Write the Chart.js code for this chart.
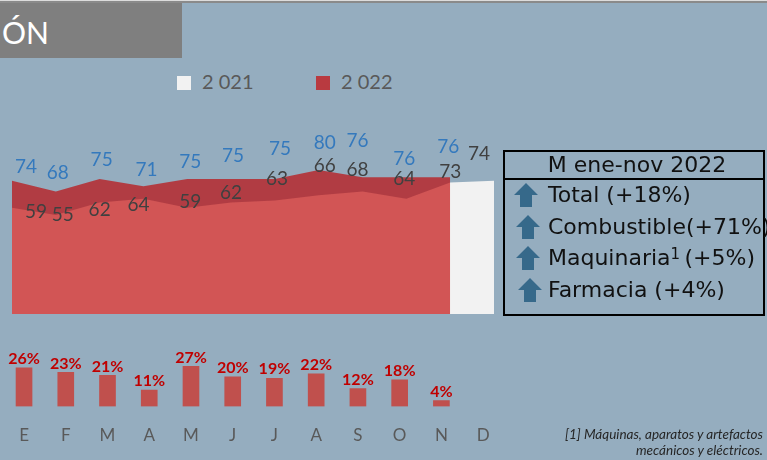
<!DOCTYPE html>
<html>
<head>
<meta charset="utf-8">
<script src="https://cdn.jsdelivr.net/npm/chart.js@4.4.1/dist/chart.umd.min.js"></script>
<style>
    html, body { margin: 0; padding: 0; }
    body {
        width: 767px; height: 460px; position: relative; overflow: hidden;
        background: #95adbf; font-family: Lato, sans-serif;
    }
    canvas { position: absolute; left: 0; top: 0; }
    .topline {
        position: absolute; left: 0; top: 0; width: 767px; height: 3px;
        background: linear-gradient(#dcdcdc 0 1px, #8a8a8a 1px 3px);
    }
    .title {
        position: absolute; left: 0; top: 3px; width: 182px; height: 55px;
        background: #7f7f7f; color: #fff; font-size: 30px; line-height: 58px;
        padding-left: 2px; box-sizing: border-box;
    }
    .legend { position: absolute; top: 68px; font-size: 20px; color: #595959; line-height: 26px; }
    .legend span.sw { display: inline-block; width: 14px; height: 14px; vertical-align: -1px; margin-right: 11px; }
    .box {
        position: absolute; left: 503px; top: 150px; width: 262px; height: 166px;
        border: 2px solid #000; box-sizing: border-box; font-family: "DejaVu Sans", sans-serif;
    }
    .box .head {
        height: 26px; border-bottom: 2px solid #000; text-align: center;
        font-size: 22px; line-height: 26px; color: #111; padding-left: 6px; white-space: nowrap;
    }
    .row { position: absolute; left: 0; font-size: 22px; color: #111; white-space: nowrap; line-height: 26px; }
    .row svg { position: absolute; top: 1px; }
    .row > span { position: absolute; left: 43px; }
    .row sup { font-size: 15px; line-height: 0; vertical-align: 0; position: relative; top: -6px; }
    .note {
        position: absolute; right: 4px; top: 426px; text-align: right;
        font-style: italic; font-size: 13.5px; line-height: 16px; color: #262626;
    }
</style>
</head>
<body>
<div class="topline"></div>
<div class="title">ÓN</div>
<div class="legend" style="left:177px"><span class="sw" style="background:#f2f2f2"></span>2 021</div>
<div class="legend" style="left:316px"><span class="sw" style="background:#b93a40"></span>2 022</div>

<canvas id="areaChart" width="767" height="460"></canvas>
<canvas id="growthChart" width="767" height="460"></canvas>

<div class="box">
    <div class="head">M ene-nov 2022</div>
    <div class="row" style="top:30px"><svg width="24" height="24" style="left:9px"><polygon points="12,0 24,12 18,12 18,24 6,24 6,12 0,12" fill="#36698a"/></svg><span>Total (+18%)</span></div>
    <div class="row" style="top:62px"><svg width="24" height="24" style="left:11px"><polygon points="12,0 24,12 18,12 18,24 6,24 6,12 0,12" fill="#36698a"/></svg><span>Combustible(+71%)</span></div>
    <div class="row" style="top:93px"><svg width="24" height="24" style="left:11px"><polygon points="12,0 24,12 18,12 18,24 6,24 6,12 0,12" fill="#36698a"/></svg><span>Maquinaria<sup>1</sup>&#8201;(+5%)</span></div>
    <div class="row" style="top:125px"><svg width="24" height="24" style="left:13px"><polygon points="12,0 24,12 18,12 18,24 6,24 6,12 0,12" fill="#36698a"/></svg><span>Farmacia (+4%)</span></div>
</div>

<div class="note">[1] Máquinas, aparatos y artefactos<br>mecánicos y eléctricos.</div>

<script>
'use strict';

// ── Data ────────────────────────────────────────────
const months      = ['E','F','M','A','M','J','J','A','S','O','N','D'];
const values2021  = [59, 55, 62, 64, 59, 62, 63, 66, 68, 64, 73, 74];
const values2022  = [74, 68, 75, 71, 75, 75, 75, 80, 76, 76, 76, null];
const growthPct   = [26, 23, 21, 11, 27, 20, 19, 22, 12, 18, 4, null];

// hand-placed label nudges (px from the point), like the original sheet
const shift2022 = [[14,-14],[2,-19],[2,-19],[3,-16],[3,-17],[2,-23],[5,-30],[6,-27],[-5,-36],[-2,-18],[-2,-30],[0,0]];
const shift2021 = [[24,4],[7,0],[0,7],[-5,6],[3,-6],[0,-10],[2,-22],[6,-29],[-5,-22],[-2,-20],[0,-11],[-15,-27]];

// ── Label plugins ───────────────────────────────────
const pointLabels = {
    id: 'pointLabels',
    afterDatasetsDraw(chart, args, opts) {
        const ctx = chart.ctx;
        ctx.save();
        ctx.font = opts.font;
        ctx.textAlign = 'center';
        ctx.textBaseline = 'middle';
        chart.data.datasets.forEach((ds, i) => {
            const meta = chart.getDatasetMeta(i);
            const shifts = opts.shifts[i];
            ctx.fillStyle = opts.colors[i];
            meta.data.forEach((pt, j) => {
                const v = ds.data[j];
                if (v == null) return;
                ctx.fillText(String(v), pt.x + shifts[j][0], pt.y + shifts[j][1]);
            });
        });
        ctx.restore();
    }
};

const barLabels = {
    id: 'barLabels',
    afterDatasetsDraw(chart, args, opts) {
        const ctx = chart.ctx;
        ctx.save();
        ctx.font = opts.font;
        ctx.textAlign = 'center';
        ctx.textBaseline = 'middle';
        ctx.fillStyle = opts.color;
        const ds = chart.data.datasets[0];
        chart.getDatasetMeta(0).data.forEach((bar, j) => {
            if (ds.data[j] == null) return;
            ctx.fillText(ds.data[j] + '%', bar.x, bar.y - 9);
        });
        ctx.restore();
    }
};

// ── Monthly index area chart ────────────────────────
new Chart(document.getElementById('areaChart').getContext('2d'), {
    type: 'line',
    data: {
        labels: months,
        datasets: [
            {
                label: '2 022',
                data: values2022,
                backgroundColor: 'rgba(192,0,0,0.65)',
                borderWidth: 0,
                fill: 'origin',
                pointRadius: 0,
                tension: 0,
                order: 0
            },
            {
                label: '2 021',
                data: values2021,
                backgroundColor: '#f2f2f2',
                borderWidth: 0,
                fill: 'origin',
                pointRadius: 0,
                tension: 0,
                order: 1
            }
        ]
    },
    options: {
        responsive: false,
        animation: false,
        layout: { padding: { left: 12, right: 273, top: 134, bottom: 146 } },
        scales: {
            x: { display: false, offset: false },
            y: { display: false, min: 0, max: 100 }
        },
        plugins: {
            legend: { display: false },
            tooltip: { enabled: false },
            pointLabels: {
                font: '19px Lato',
                colors: ['#3479bd', '#404040'],
                shifts: [shift2022, shift2021]
            }
        }
    },
    plugins: [pointLabels]
});

// ── Growth bars ─────────────────────────────────────
new Chart(document.getElementById('growthChart').getContext('2d'), {
    type: 'bar',
    data: {
        labels: months,
        datasets: [{
            data: growthPct,
            backgroundColor: '#c0504d',
            barThickness: 16
        }]
    },
    options: {
        responsive: false,
        animation: false,
        layout: { padding: { left: 3, right: 263, top: 362, bottom: 9 } },
        scales: {
            x: {
                offset: true,
                grid: { display: false, drawTicks: false },
                border: { display: false },
                ticks: { color: '#595959', font: { family: 'Lato', size: 17 }, padding: 19 }
            },
            y: { display: false, min: 0, max: 30 }
        },
        plugins: {
            legend: { display: false },
            tooltip: { enabled: false },
            barLabels: { font: 'bold 16px Lato', color: '#c00000' }
        }
    },
    plugins: [barLabels]
});
</script>
</body>
</html>
